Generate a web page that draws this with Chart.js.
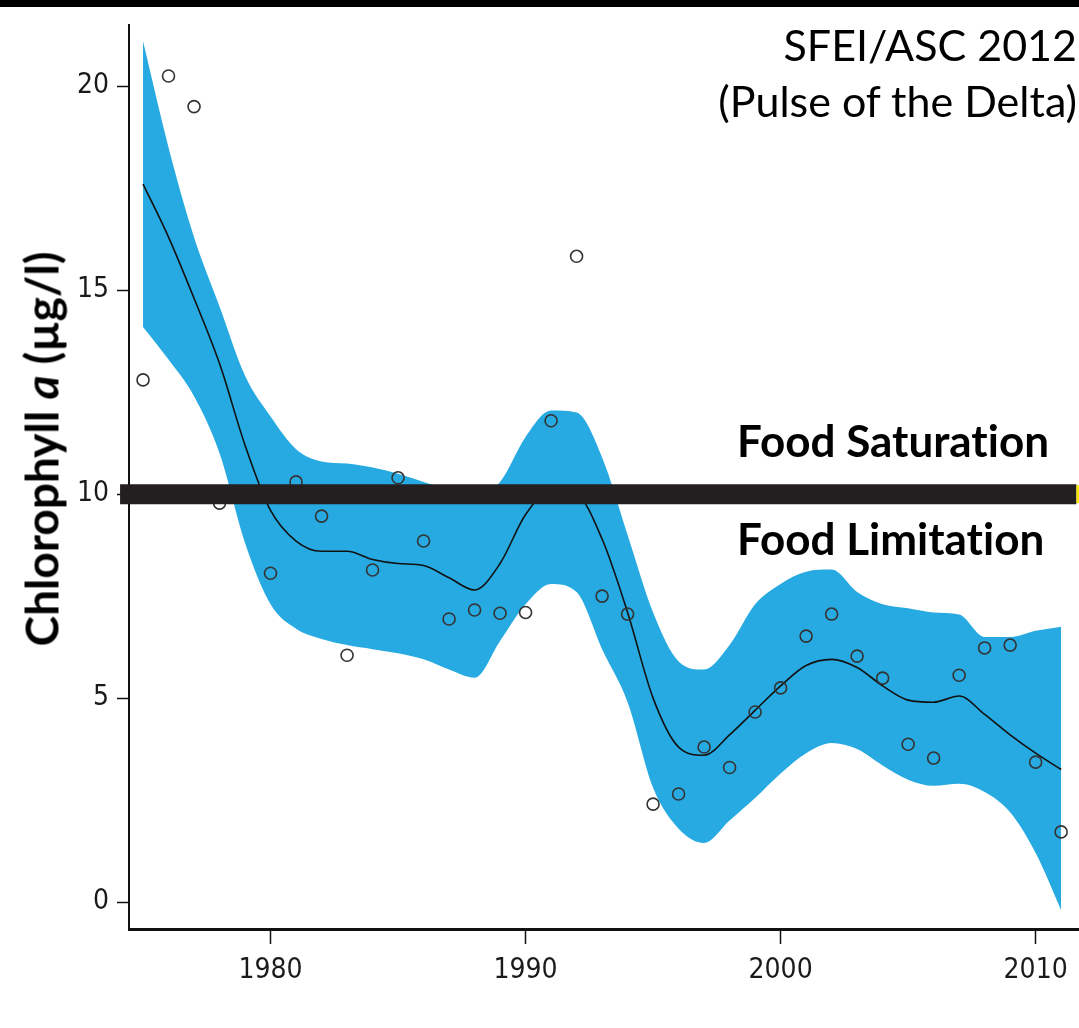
<!DOCTYPE html>
<html>
<head>
<meta charset="utf-8">
<script src="https://cdn.jsdelivr.net/npm/chart.js@4.4.1/dist/chart.umd.min.js"></script>
<style>
  body { margin:0; background:#fff; }
  #wrap { position:relative; width:1079px; height:1028px; overflow:hidden; }
  #topbar { position:absolute; left:0; top:0; width:1079px; height:7px; background:#000; }
  .lbl { position:absolute; font-family:Lato, 'Open Sans', sans-serif; color:#000; white-space:nowrap; font-variant-ligatures:none; }
  #src { right:2px; top:17px; font-size:43px; line-height:56px; text-align:right; }
  #sat, #lim { left:737px; font-size:44px; line-height:44px; font-weight:bold; }
  #sat { top:418px; }
  #lim { top:516px; }
  #ytitle { left:41px; top:449px; font-size:46px; font-weight:bold; transform:translate(-50%,-50%) rotate(-90deg); }
</style>
</head>
<body>
<div id="wrap">
  <canvas id="chart" width="1079" height="1028"></canvas>
  <div id="topbar"></div>
  <div class="lbl" id="src">SFEI/ASC 2012<br>(Pulse of the Delta)</div>
  <div class="lbl" id="sat">Food Saturation</div>
  <div class="lbl" id="lim">Food Limitation</div>
  <div class="lbl" id="ytitle">Chlorophyll <i>a</i> (µg/l)</div>
</div>
<script>
// observed annual values (open circles)
const obsYears = [1975,1976,1977,1978,1980,1981,1982,1983,1984,1985,1986,1987,1988,1989,1990,1991,1992,1993,1994,1995,1996,1997,1998,1999,2000,2001,2002,2003,2004,2005,2006,2007,2008,2009,2010,2011];
const obsValues = [12.8,20.25,19.5,9.78,8.06,10.3,9.46,6.05,8.14,10.4,8.85,6.94,7.16,7.08,7.1,11.8,15.83,7.5,7.06,2.4,2.65,3.8,3.3,4.66,5.25,6.52,7.06,6.03,5.49,3.87,3.53,5.56,6.23,6.3,3.43,1.72];

// smoothed trend and confidence band
const fitYears = [1975,1976,1977,1978,1979,1980,1981,1982,1983,1984,1985,1986,1987,1988,1989,1990,1991,1992,1993,1994,1995,1996,1997,1998,1999,2000,2001,2002,2003,2004,2005,2006,2007,2008,2009,2010,2011];
const fitLine  = [17.6,16.3,14.8,13.2,11.2,9.6,8.85,8.6,8.6,8.4,8.3,8.25,7.95,7.65,8.3,9.5,10.1,10.0,8.9,7.1,5.0,3.8,3.6,4.1,4.7,5.3,5.8,5.95,5.75,5.3,4.95,4.9,5.05,4.6,4.1,3.65,3.25];
const fitUpper = [21.1,18.5,16.3,14.6,12.9,11.9,11.1,10.8,10.75,10.65,10.5,10.3,10.1,9.95,10.3,11.4,12.05,12.0,10.9,9.0,7.1,5.9,5.7,6.3,7.3,7.8,8.1,8.15,7.6,7.3,7.2,7.1,7.05,6.5,6.5,6.65,6.75];
const fitLower = [14.1,13.3,12.4,11.0,8.8,7.3,6.7,6.45,6.3,6.2,6.1,5.95,5.7,5.5,6.4,7.3,7.8,7.6,6.2,4.9,2.8,1.8,1.45,2.0,2.55,3.15,3.65,3.9,3.75,3.35,3.0,2.85,2.9,2.7,2.2,1.2,-0.2];

// threshold between food limitation and saturation
const threshold = 10;
const thresholdSpan = [1974.1, 2011.6];
const markerSpan = [2011.6, 2011.72];

const xTicks = [1980,1990,2000,2010];
const yTicks = [0,5,10,15,20];

const pts = (xs, ys) => xs.map((x,i) => ({x:x, y:ys[i]}));
const flat = (xs, v) => xs.map(x => ({x:x, y:v}));

const tickFont = { family:"'Liberation Sans Narrow','DejaVu Sans Condensed',sans-serif", size:28 };

new Chart(document.getElementById('chart'), {
  type:'line',
  data:{
    datasets:[
      { data:flat(markerSpan, threshold), borderColor:'#f5e600', borderWidth:18, pointRadius:0, clip:false, borderCapStyle:'butt' },
      { data:flat(thresholdSpan, threshold), borderColor:'#231f20', borderWidth:20, pointRadius:0, clip:false, borderCapStyle:'butt' },
      { data:pts(obsYears, obsValues), showLine:false, pointRadius:6, pointBorderWidth:1.6, pointBorderColor:'#333', pointBackgroundColor:'rgba(0,0,0,0)', clip:false },
      { data:pts(fitYears, fitLine), borderColor:'#111', borderWidth:1.6, pointRadius:0, cubicInterpolationMode:'monotone' },
      { data:pts(fitYears, fitUpper), borderWidth:0, borderColor:'rgba(0,0,0,0)', pointRadius:0, fill:'+1', backgroundColor:'#27aae1', cubicInterpolationMode:'monotone' },
      { data:pts(fitYears, fitLower), borderWidth:0, borderColor:'rgba(0,0,0,0)', pointRadius:0, fill:false, cubicInterpolationMode:'monotone' }
    ]
  },
  options:{
    responsive:false,
    animation:false,
    layout:{ autoPadding:false, padding:{ top:25, right:0, left:0, bottom:0 } },
    plugins:{ legend:{display:false}, tooltip:{enabled:false} },
    scales:{
      x:{
        type:'linear', min:1974.45, max:2011.7,
        afterBuildTicks:(s) => { s.ticks = xTicks.map(v => ({value:v})); },
        afterFit:(s) => { s.height = 99; },
        grid:{ drawOnChartArea:false, drawTicks:true, tickLength:15, tickColor:'#111', tickWidth:1.5 },
        border:{ display:true, color:'#111', width:3 },
        ticks:{ font:tickFont, color:'#1a1a1a', padding:10, maxRotation:0, callback:(v) => String(v) }
      },
      y:{
        type:'linear', min:-0.66, max:21.5,
        afterBuildTicks:(s) => { s.ticks = yTicks.map(v => ({value:v})); },
        afterFit:(s) => { s.width = 129; },
        grid:{ drawOnChartArea:false, drawTicks:true, tickLength:12, tickColor:'#111', tickWidth:1.5 },
        border:{ display:true, color:'#111', width:2 },
        ticks:{ font:tickFont, color:'#1a1a1a', padding:8, callback:(v) => String(v) }
      }
    }
  }
});
</script>
</body>
</html>
